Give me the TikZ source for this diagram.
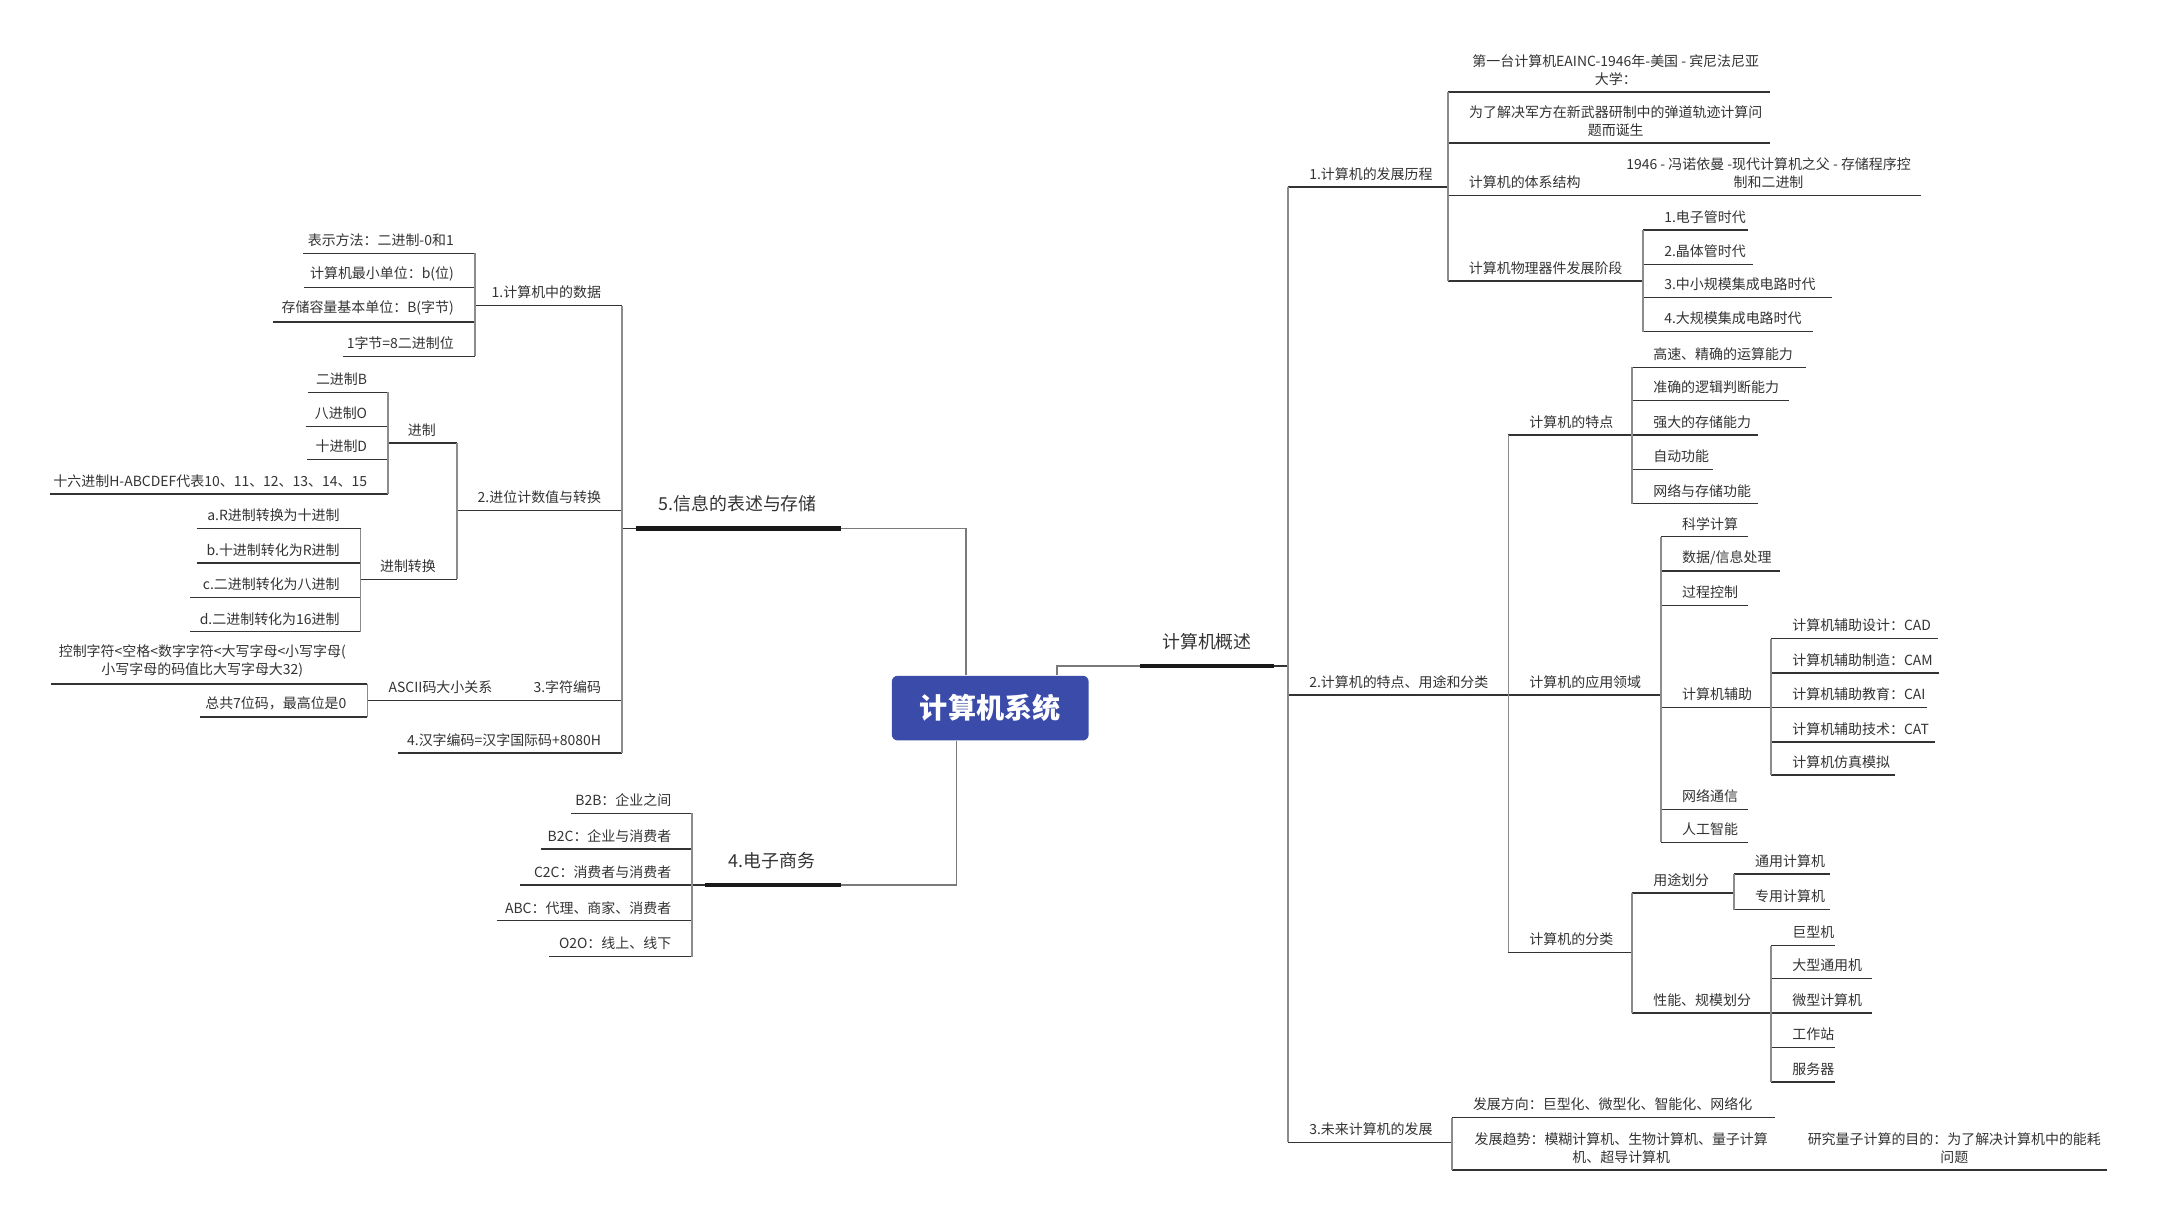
\documentclass[tikz,border=0pt]{standalone}
\usepackage{fontspec}
\setmainfont{Noto Sans CJK SC}
\usetikzlibrary{calc}
\definecolor{txt}{HTML}{333333}
\definecolor{ln}{HTML}{333333}
\definecolor{sp}{HTML}{8C8C8C}
\definecolor{cn}{HTML}{7A7A7A}
\definecolor{rootblue}{HTML}{3A4BAA}
\newcommand\smtxt{\fontsize{7.1pt}{9.1pt}\selectfont}
\newcommand\midtxt{\fontsize{9.1pt}{11pt}\selectfont}
\newcommand\roottxt{\fontsize{14.3pt}{16pt}\selectfont\bfseries}
\newcommand\Rtopic[5]{%
  \coordinate (#1-l) at (#2,#4);
  \coordinate (#1-r) at (#3,#4);
  \draw[uline] (#1-l) -- (#1-r);
  \node[rtxt] (#1) at (#2+15,#4-4.5) {#5};}
\newcommand\Ltopic[5]{%
  \coordinate (#1-l) at (#2,#4);
  \coordinate (#1-r) at (#3,#4);
  \draw[uline] (#1-l) -- (#1-r);
  \node[ltxt] (#1) at (#3-15,#4-4.5) {#5};}
\newcommand\Mtopic[6]{%
  \coordinate (#1-l) at (#2,#4);
  \coordinate (#1-r) at (#3,#4);
  \draw[uline] (#1-l) -- (#1-r);
  \node[mtxt] (#1) at (#5,#4-4.5) {#6};}
\tikzset{
  uline/.style={draw=ln, line width=0.75pt},
  spine/.style={draw=sp, line width=0.9pt},
  conn/.style={draw=cn, line width=0.8pt},
  bar/.style={draw=black!90, line width=2.2pt},
  rtxt/.style={anchor=south west, inner sep=0pt, font=\smtxt, text=txt},
  ltxt/.style={anchor=south east, inner sep=0pt, font=\smtxt, text=txt},
  mtxt/.style={anchor=south, inner sep=0pt, font=\smtxt, text=txt, align=center},
  bigtxt/.style={anchor=south, inner sep=0pt, font=\midtxt, text=txt},
  rootbox/.style={fill=rootblue, rounded corners=3pt, text=white, font=\roottxt,
    minimum width=100.1pt, minimum height=32.9pt, inner sep=0pt},
}
\begin{document}
\begin{tikzpicture}[x=0.7pt,y=-0.7pt]
\useasboundingbox (0,0) rectangle (1568,887);
\fill[white] (0,0) rectangle (1568,887);

% root
\node[rootbox] (root) at (719.5,514.5) {计算机系统};

% ===== right main branch
\coordinate (ovk) at (768,484);
\coordinate (ov-l) at (828,484);
\coordinate (ov-r) at (926,484);
\coordinate (ov-s) at (936,484);
\draw[conn] (root.north -| ovk) -- (ovk) -- (ov-l);
\draw[bar] (ov-l) -- (ov-r);
\draw[uline] (ov-r) -- (ov-s);
\node[bigtxt] (ov) at (877,484-11.5) {计算机概述};

\Rtopic{t1}{936}{1052}{136}{1.计算机的发展历程}
\Rtopic{t2}{936}{1096}{505}{2.计算机的特点、用途和分类}
\Rtopic{t3}{936}{1055}{830}{3.未来计算机的发展}
\draw[spine] (t1-l) -- (t3-l);

% t1 children
\Mtopic{a1}{1052}{1286}{67}{1174}{第一台计算机EAINC-1946年-美国 - 宾尼法尼亚\\大学：}
\Mtopic{a2}{1052}{1286}{104}{1174}{为了解决军方在新武器研制中的弹道轨迹计算问\\题而诞生}
\Rtopic{a3}{1052}{1165}{142}{计算机的体系结构}
\Mtopic{a3c}{1165}{1396}{142}{1285}{1946 - 冯诺依曼 -现代计算机之父 - 存储程序控\\制和二进制}
\Rtopic{a4}{1052}{1194}{204}{计算机物理器件发展阶段}
\draw[spine] (a1-l) -- (a4-l);

\Rtopic{b1}{1194}{1270}{167}{1.电子管时代}
\Rtopic{b2}{1194}{1274}{192}{2.晶体管时代}
\Rtopic{b3}{1194}{1331}{216}{3.中小规模集成电路时代}
\Rtopic{b4}{1194}{1317}{241}{4.大规模集成电路时代}
\draw[spine] (b1-l) -- (b4-l);

% t2 children
\Rtopic{c1}{1096}{1186}{316}{计算机的特点}
\Rtopic{c2}{1096}{1207}{505}{计算机的应用领域}
\Rtopic{c3}{1096}{1186}{692}{计算机的分类}
\draw[spine] (c1-l) -- (c3-l);

\Rtopic{d1}{1186}{1312}{267}{高速、精确的运算能力}
\Rtopic{d2}{1186}{1300}{291}{准确的逻辑判断能力}
\Rtopic{d3}{1186}{1277}{316}{强大的存储能力}
\Rtopic{d4}{1186}{1245}{341}{自动功能}
\Rtopic{d5}{1186}{1277}{366}{网络与存储功能}
\draw[spine] (d1-l) -- (d5-l);

\Rtopic{e1}{1207}{1270}{390}{科学计算}
\Rtopic{e2}{1207}{1293}{415}{数据/信息处理}
\Rtopic{e3}{1207}{1270}{440}{过程控制}
\Rtopic{e4}{1207}{1287}{514}{计算机辅助}
\Rtopic{e5}{1207}{1270}{588}{网络通信}
\Rtopic{e6}{1207}{1270}{612}{人工智能}
\draw[spine] (e1-l) -- (e6-l);

\Rtopic{f1}{1287}{1408}{464}{计算机辅助设计：CAD}
\Rtopic{f2}{1287}{1409}{489}{计算机辅助制造：CAM}
\Rtopic{f3}{1287}{1400}{514}{计算机辅助教育：CAI}
\Rtopic{f4}{1287}{1406}{539}{计算机辅助技术：CAT}
\Rtopic{f5}{1287}{1377}{563}{计算机仿真模拟}
\draw[spine] (f1-l) -- (f5-l);

\Rtopic{g1}{1186}{1260}{649}{用途划分}
\Rtopic{g2}{1186}{1287}{736}{性能、规模划分}
\draw[spine] (g1-l) -- (g2-l);

\Rtopic{h1}{1260}{1330}{635}{通用计算机}
\Rtopic{h2}{1260}{1330}{661}{专用计算机}
\draw[spine] (h1-l) -- (h2-l);

\Rtopic{i1}{1287}{1333}{687}{巨型机}
\Rtopic{i2}{1287}{1360}{711}{大型通用机}
\Rtopic{i3}{1287}{1360}{736}{微型计算机}
\Rtopic{i4}{1287}{1333}{761}{工作站}
\Rtopic{i5}{1287}{1333}{786}{服务器}
\draw[spine] (i1-l) -- (i5-l);

% t3 children
\Rtopic{j1}{1055}{1290}{812}{发展方向：巨型化、微型化、智能化、网络化}
\Mtopic{j2}{1055}{1298}{850}{1178}{发展趋势：模糊计算机、生物计算机、量子计算\\机、超导计算机}
\Mtopic{j2c}{1298}{1531}{850}{1420}{研究量子计算的目的：为了解决计算机中的能耗\\问题}
\draw[spine] (j1-l) -- (j2-l);

% ===== left upper branch
\coordinate (ink) at (702,384);
\coordinate (in-r) at (611,384);
\coordinate (in-l) at (462,384);
\coordinate (in-s) at (452,384);
\draw[conn] (root.north -| ink) -- (ink) -- (in-r);
\draw[bar] (in-r) -- (in-l);
\draw[uline] (in-l) -- (in-s);
\node[bigtxt] (info) at (536,384-11.5) {5.信息的表述与存储};

\Ltopic{k1}{345}{452}{222}{1.计算机中的数据}
\Ltopic{k2}{332}{452}{371}{2.进位计数值与转换}
\Ltopic{k3}{373}{452}{509}{3.字符编码}
\Ltopic{k3c}{267}{373}{509}{ASCII码大小关系}
\Ltopic{k4}{289}{452}{547}{4.汉字编码=汉字国际码+8080H}
\draw[spine] (k1-r) -- (k4-r);

\Ltopic{m1}{220}{345}{184}{表示方法：二进制-0和1}
\Ltopic{m2}{221}{345}{209}{计算机最小单位：b(位)}
\Ltopic{m3}{198}{345}{234}{存储容量基本单位：B(字节)}
\Ltopic{m4}{249}{345}{259}{1字节=8二进制位}
\draw[spine] (m1-r) -- (m4-r);

\Ltopic{n1}{282}{332}{322}{进制}
\Ltopic{n2}{262}{332}{421}{进制转换}
\draw[spine] (n1-r) -- (n2-r);

\Ltopic{o1}{224}{282}{285}{二进制B}
\Ltopic{o2}{222}{282}{310}{八进制O}
\Ltopic{o3}{223}{282}{334}{十进制D}
\Ltopic{o4}{36}{282}{359}{十六进制H-ABCDEF代表10、11、12、13、14、15}
\draw[spine] (o1-r) -- (o4-r);

\Ltopic{p1}{143}{262}{384}{a.R进制转换为十进制}
\Ltopic{p2}{143}{262}{409}{b.十进制转化为R进制}
\Ltopic{p3}{138}{262}{434}{c.二进制转化为八进制}
\Ltopic{p4}{138}{262}{459}{d.二进制转化为16进制}
\draw[spine] (p1-r) -- (p4-r);

\Mtopic{q1}{37}{267}{497}{147}{控制字符<空格<数字字符<大写字母<小写字母(\\小写字母的码值比大写字母大32)}
\Ltopic{q2}{145}{267}{521}{总共7位码，最高位是0}
\draw[spine] (q1-r) -- (q2-r);

% ===== left lower branch
\coordinate (eck) at (695,643);
\coordinate (ec-r) at (611,643);
\coordinate (ec-l) at (512,643);
\coordinate (ec-s) at (503,643);
\draw[conn] (root.south -| eck) -- (eck) -- (ec-r);
\draw[bar] (ec-r) -- (ec-l);
\draw[uline] (ec-l) -- (ec-s);
\node[bigtxt] (ecom) at (561,643-11.5) {4.电子商务};

\Ltopic{r1}{415}{503}{591}{B2B：企业之间}
\Ltopic{r2}{393}{503}{617}{B2C：企业与消费者}
\Ltopic{r3}{378}{503}{643}{C2C：消费者与消费者}
\Ltopic{r4}{361}{503}{669}{ABC：代理、商家、消费者}
\Ltopic{r5}{399}{503}{695}{O2O：线上、线下}
\draw[spine] (r1-r) -- (r5-r);
\end{tikzpicture}
\end{document}
